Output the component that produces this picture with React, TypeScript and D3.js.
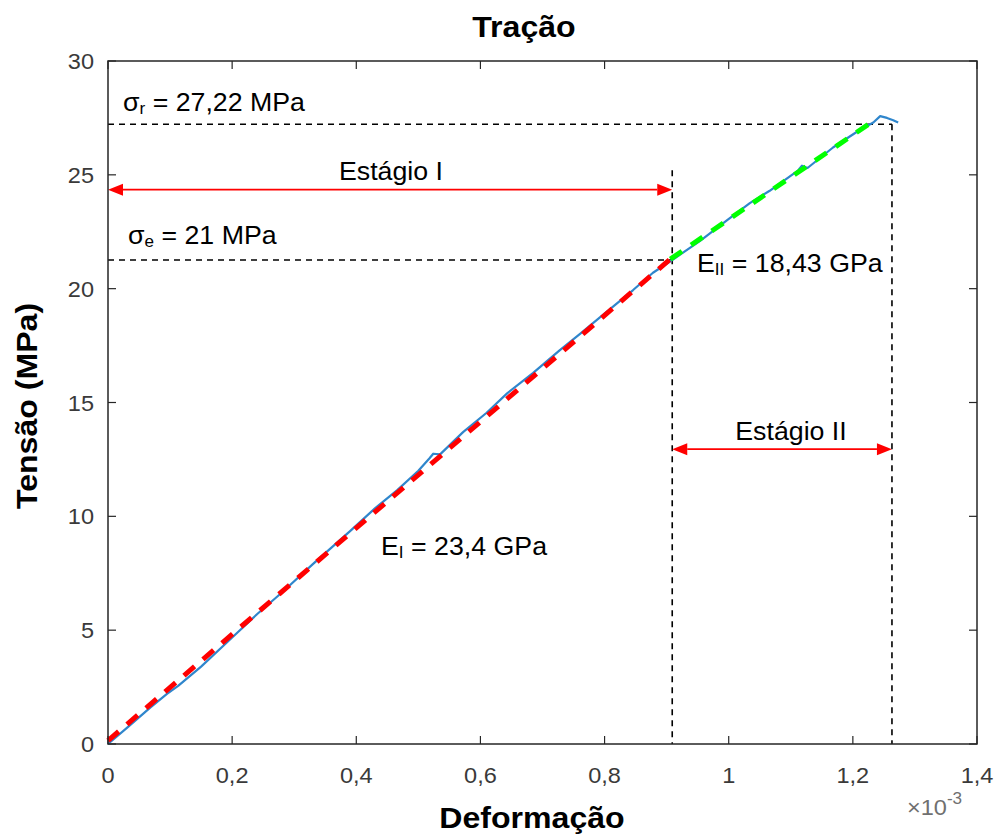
import * as d3 from 'd3'

// strain (x10^-3) / stress (MPa)
const strain = [0, 0.03, 0.068, 0.095, 0.113, 0.15, 0.197, 0.24, 0.282, 0.33, 0.39, 0.43, 0.466, 0.5, 0.518, 0.524, 0.535, 0.572, 0.61, 0.643, 0.685, 0.728, 0.76, 0.793, 0.846, 0.878, 0.909, 0.954, 0.997, 1.034, 1.066, 1.112, 1.118, 1.127, 1.168, 1.211, 1.233, 1.244, 1.255, 1.265, 1.273]
const stress = [0, 0.7, 1.6, 2.2, 2.55, 3.4, 4.6, 5.7, 6.7, 7.9, 9.35, 10.35, 11.15, 12.0, 12.55, 12.75, 12.72, 13.7, 14.55, 15.4, 16.3, 17.3, 18.0, 18.75, 19.94, 20.7, 21.26, 22.1, 23.0, 23.76, 24.3, 25.2, 25.4, 25.3, 26.2, 26.97, 27.3, 27.58, 27.5, 27.4, 27.3]

// fitted lines (stage I red, stage II green)
const fitI = [[0, 0.15], [0.906, 21.3]]
const fitII = [[0.906, 21.3], [1.235, 27.4]]

const sigmaR = 27.22
const sigmaE = 21.26
const strainE = 0.909
const strainR = 1.263
const arrowIY = 24.35
const arrowIIY = 12.95

const xTicks = [0, 0.2, 0.4, 0.6, 0.8, 1, 1.2, 1.4]
const yTicks = [0, 5, 10, 15, 20, 25, 30]

const W = 995
const H = 835
const left = 108
const right = 977
const top = 61
const bottom = 744

const font = 'Arial, "Liberation Sans", Helvetica, sans-serif'
const SX = 1.07 // the reference text is a little wide

function T({ x, y, size, anchor = 'start', bold = false, fill = '#000', rotate = 0, children }: any) {
  return (
    <text
      transform={`translate(${x},${y}) rotate(${rotate}) scale(${SX},1)`}
      textAnchor={anchor}
      fontSize={size}
      fontWeight={bold ? 'bold' : 'normal'}
      fill={fill}
    >
      {children}
    </text>
  )
}

export default function App() {
  const x = d3.scaleLinear().domain([0, 1.4]).range([left, right])
  const y = d3.scaleLinear().domain([0, 30]).range([bottom, top])
  const fmt = (v: number) => String(v).replace('.', ',')

  const curve = d3.line<number>().x((_, i) => x(strain[i])).y((d) => y(d))
  const seg = d3.line<number[]>().x((d) => x(d[0])).y((d) => y(d[1]))

  const arrow = (x0: number, x1: number, yv: number) => {
    const py = y(yv)
    const a = x(x0)
    const b = x(x1)
    const L = 15
    const hw = 6
    return (
      <g>
        <line x1={a + L} x2={b - L} y1={py} y2={py} stroke="#ff0000" strokeWidth={1.6} />
        <path d={`M${a},${py}L${a + L},${py - hw}L${a + L},${py + hw}Z`} fill="#ff0000" />
        <path d={`M${b},${py}L${b - L},${py - hw}L${b - L},${py + hw}Z`} fill="#ff0000" />
      </g>
    )
  }

  const axisColor = '#262626'
  const tickColor = '#3a3a3a'

  return (
    <svg width={W} height={H} style={{ position: 'absolute', left: 0, top: 0, background: '#fff' }} fontFamily={font}>
      <rect x={0} y={0} width={W} height={H} fill="#fff" />
      <T x={524} y={37} size={30} bold anchor="middle">Tração</T>

      {/* ticks on all four sides */}
      {xTicks.map((t) => (
        <g key={'x' + t}>
          <line x1={x(t)} x2={x(t)} y1={bottom} y2={bottom - 8} stroke={axisColor} strokeWidth={1.2} />
          <line x1={x(t)} x2={x(t)} y1={top} y2={top + 8} stroke={axisColor} strokeWidth={1.2} />
          <T x={x(t)} y={783} size={22} anchor="middle" fill={tickColor}>{fmt(t)}</T>
        </g>
      ))}
      {yTicks.map((t) => (
        <g key={'y' + t}>
          <line x1={left} x2={left + 8} y1={y(t)} y2={y(t)} stroke={axisColor} strokeWidth={1.2} />
          <line x1={right} x2={right - 8} y1={y(t)} y2={y(t)} stroke={axisColor} strokeWidth={1.2} />
          <T x={94} y={y(t) + 8} size={22} anchor="end" fill={tickColor}>{t}</T>
        </g>
      ))}

      {/* reference dashed lines */}
      <g stroke="#000" strokeWidth={1.6} strokeDasharray="6,5" fill="none">
        <line x1={x(0)} x2={x(strainR)} y1={y(sigmaR)} y2={y(sigmaR)} />
        <line x1={x(strainR)} x2={x(strainR)} y1={y(sigmaR)} y2={y(0)} />
        <line x1={x(0)} x2={x(strainE)} y1={y(sigmaE)} y2={y(sigmaE)} />
        <line x1={x(strainE)} x2={x(strainE)} y1={y(25.2)} y2={y(0)} />
      </g>

      <path d={curve(stress) || ''} fill="none" stroke="#2f86cc" strokeWidth={2.2} strokeLinejoin="round" />
      <path d={seg(fitI) || ''} fill="none" stroke="#ff0000" strokeWidth={5} strokeDasharray="14,11" />
      <path d={seg(fitII) || ''} fill="none" stroke="#00ff00" strokeWidth={5} strokeDasharray="14,11" />

      {arrow(0, strainE, arrowIY)}
      {arrow(strainE, strainR, arrowIIY)}

      <T x={391} y={180} size={25} anchor="middle">Estágio I</T>
      <T x={791} y={440} size={25} anchor="middle">Estágio II</T>
      <T x={123} y={111} size={25}>σ<tspan fontSize={16} dy={3}>r</tspan><tspan dy={-3}> = 27,22 MPa</tspan></T>
      <T x={128} y={244} size={25}>σ<tspan fontSize={16} dy={3}>e</tspan><tspan dy={-3}> = 21 MPa</tspan></T>
      <T x={697} y={272} size={25}>E<tspan fontSize={16} dy={3}>II</tspan><tspan dy={-3}> = 18,43 GPa</tspan></T>
      <T x={381} y={555} size={25}>E<tspan fontSize={16} dy={3}>I</tspan><tspan dy={-3}> = 23,4 GPa</tspan></T>

      <rect x={left} y={top} width={right - left} height={bottom - top} fill="none" stroke={axisColor} strokeWidth={1.5} />

      <T x={532} y={828} size={30} bold anchor="middle">Deformação</T>
      <T x={37} y={406} size={30} bold anchor="middle" rotate={-90}>Tensão (MPa)</T>
      <T x={907} y={815} size={22} fill="#707070">×10<tspan fontSize={16} dy={-11}>-3</tspan></T>
    </svg>
  )
}
